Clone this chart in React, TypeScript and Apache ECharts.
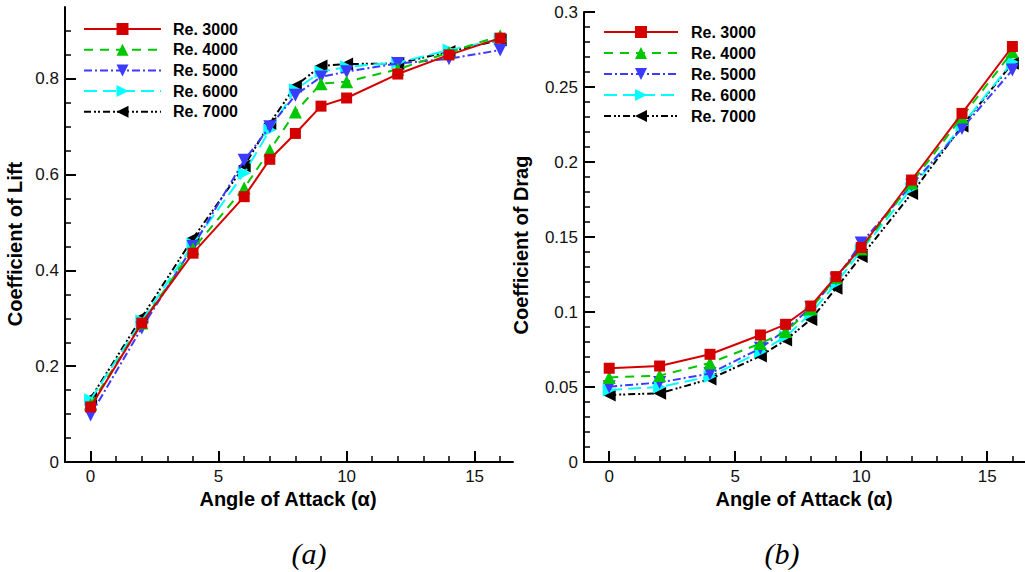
import React, { useEffect, useRef } from "react";
import * as echarts from "echarts";

// ---- Data ----
const angles = [0, 2, 4, 6, 7, 8, 9, 10, 12, 14, 16];
const seriesNames = ["Re. 3000", "Re. 4000", "Re. 5000", "Re. 6000", "Re. 7000"];

const liftRe3000 = [0.115, 0.29, 0.436, 0.554, 0.632, 0.686, 0.743, 0.76, 0.81, 0.85, 0.885];
const liftRe4000 = [0.12, 0.29, 0.445, 0.572, 0.651, 0.731, 0.79, 0.794, 0.82, 0.855, 0.89];
const liftRe5000 = [0.098, 0.28, 0.45, 0.63, 0.7, 0.766, 0.804, 0.815, 0.832, 0.842, 0.86];
const liftRe6000 = [0.13, 0.295, 0.455, 0.603, 0.693, 0.777, 0.815, 0.825, 0.834, 0.86, 0.883];
const liftRe7000 = [0.133, 0.302, 0.467, 0.618, 0.707, 0.785, 0.827, 0.831, 0.832, 0.857, 0.881];

const dragRe3000 = [0.0625, 0.064, 0.0718, 0.0847, 0.0918, 0.104, 0.1236, 0.143, 0.188, 0.2324, 0.277];
const dragRe4000 = [0.0564, 0.0576, 0.066, 0.079, 0.087, 0.102, 0.123, 0.142, 0.186, 0.23, 0.2735];
const dragRe5000 = [0.0502, 0.053, 0.059, 0.0758, 0.088, 0.103, 0.122, 0.146, 0.1847, 0.2224, 0.2613];
const dragRe6000 = [0.048, 0.05, 0.057, 0.0735, 0.0836, 0.099, 0.119, 0.141, 0.1824, 0.2245, 0.2667];
const dragRe7000 = [0.0447, 0.0458, 0.0553, 0.0707, 0.0813, 0.095, 0.1158, 0.137, 0.179, 0.224, 0.2658];

const liftSeries = [liftRe3000, liftRe4000, liftRe5000, liftRe6000, liftRe7000];
const dragSeries = [dragRe3000, dragRe4000, dragRe5000, dragRe6000, dragRe7000];

const xMajorTicks = [0, 5, 10, 15];
const liftMajorTicks = [0, 0.2, 0.4, 0.6, 0.8];
const dragMajorTicks = [0, 0.05, 0.1, 0.15, 0.2, 0.25, 0.3];

// ---- Styles ----
const FONT = "'Liberation Sans', Arial, sans-serif";
const styles = [
  { color: "#d40000", dash: "solid" as any, symbol: "rect", rotate: 0, size: 11 },
  { color: "#00c800", dash: [9, 7], symbol: "triangle", rotate: 0, size: 13 },
  { color: "#3b3bff", dash: [8, 3, 2, 3], symbol: "triangle", rotate: 180, size: 13 },
  { color: "#00ffff", dash: [13, 6], symbol: "triangle", rotate: -90, size: 13 },
  { color: "#000000", dash: [7, 3, 2, 2, 2, 3], symbol: "triangle", rotate: 90, size: 13 },
];

const xMinorTicks: number[] = [];
for (let i = 1; i <= 16; i++) if (!xMajorTicks.includes(i)) xMinorTicks.push(i);
const liftMinorTicks: number[] = [];
for (let i = 1; i <= 18; i++) if (i % 4 !== 0) liftMinorTicks.push(i / 20);
const dragMinorTicks: number[] = [];
for (let i = 1; i <= 29; i++) if (i % 5 !== 0) dragMinorTicks.push(i / 100);

function majorX(gridIndex: number) {
  return {
    type: "value",
    gridIndex,
    min: -1,
    max: 16.5,
    position: "bottom",
    axisLine: { show: true, onZero: false, lineStyle: { color: "#000", width: 2 } },
    axisTick: { show: true, inside: true, length: 11, customValues: xMajorTicks, lineStyle: { color: "#000", width: 2 } },
    axisLabel: { show: true, customValues: xMajorTicks, margin: 6, fontSize: 17, color: "#111", fontFamily: FONT },
    splitLine: { show: false },
  };
}
function minorX(gridIndex: number) {
  return {
    type: "value",
    gridIndex,
    min: -1,
    max: 16.5,
    position: "bottom",
    axisLine: { show: false, onZero: false },
    axisTick: { show: true, inside: true, length: 6, customValues: xMinorTicks, lineStyle: { color: "#000", width: 1.5 } },
    axisLabel: { show: false, customValues: xMinorTicks },
    splitLine: { show: false },
  };
}
function majorY(gridIndex: number, max: number, ticks: number[]) {
  return {
    type: "value",
    gridIndex,
    min: 0,
    max,
    position: "left",
    axisLine: { show: true, onZero: false, lineStyle: { color: "#000", width: 2 } },
    axisTick: { show: true, inside: true, length: 11, customValues: ticks, lineStyle: { color: "#000", width: 2 } },
    axisLabel: { show: true, customValues: ticks, margin: 6, fontSize: 17, color: "#111", fontFamily: FONT },
    splitLine: { show: false },
  };
}
function minorY(gridIndex: number, max: number, ticks: number[]) {
  return {
    type: "value",
    gridIndex,
    min: 0,
    max,
    position: "left",
    axisLine: { show: false, onZero: false },
    axisTick: { show: true, inside: true, length: 6, customValues: ticks, lineStyle: { color: "#000", width: 1.5 } },
    axisLabel: { show: false, customValues: ticks },
    splitLine: { show: false },
  };
}

function buildSeries(values: number[][], xAxisIndex: number, yAxisIndex: number) {
  return values.map((vals, i) => ({
    type: "line",
    name: seriesNames[i],
    xAxisIndex,
    yAxisIndex,
    data: angles.map((a, j) => [a, vals[j]]),
    symbol: styles[i].symbol,
    symbolSize: styles[i].size,
    symbolRotate: styles[i].rotate,
    showAllSymbol: true,
    lineStyle: { color: styles[i].color, width: 2, type: styles[i].dash },
    itemStyle: { color: styles[i].color },
    emphasis: { disabled: true },
    z: 10 - i,
  }));
}

export default function App() {
  const ref = useRef<HTMLDivElement>(null);
  useEffect(() => {
    if (!ref.current) return;
    const chart = echarts.init(ref.current, undefined, { renderer: "svg" });
    const legendText = { fontSize: 16, fontWeight: "bold", color: "#000", fontFamily: FONT };
    const titleFont = `bold 20px ${FONT}`;
    const capFont = `italic 30px 'Liberation Serif', 'Times New Roman', serif`;
    chart.setOption({
      animation: false,
      backgroundColor: "#fff",
      grid: [
        { left: 65, top: 7, width: 448, height: 455 },
        { left: 584, top: 12, width: 441, height: 450 },
      ],
      xAxis: [majorX(0), minorX(0), majorX(1), minorX(1)],
      yAxis: [
        majorY(0, 0.95, liftMajorTicks),
        minorY(0, 0.95, liftMinorTicks),
        majorY(1, 0.3, dragMajorTicks),
        minorY(1, 0.3, dragMinorTicks),
      ],
      legend: [
        {
          orient: "vertical",
          left: 83,
          top: 21,
          padding: 0,
          itemGap: 4.7,
          itemWidth: 77,
          itemHeight: 15,
          selectedMode: false,
          data: seriesNames,
          textStyle: { ...legendText, padding: [0, 0, 0, 7] },
        },
        {
          orient: "vertical",
          left: 603,
          top: 24,
          padding: 0,
          itemGap: 5,
          itemWidth: 74,
          itemHeight: 15,
          selectedMode: false,
          data: seriesNames,
          textStyle: { ...legendText, padding: [0, 0, 0, 8] },
        },
      ],
      graphic: [
        {
          type: "text", x: 288, y: 499,
          style: { text: "Angle of Attack (α)", align: "center", verticalAlign: "middle", font: titleFont, fill: "#000" },
        },
        {
          type: "text", x: 804, y: 499,
          style: { text: "Angle of Attack (α)", align: "center", verticalAlign: "middle", font: titleFont, fill: "#000" },
        },
        {
          type: "text", x: 15, y: 244, rotation: Math.PI / 2,
          style: { text: "Coefficient of Lift", align: "center", verticalAlign: "middle", font: titleFont, fill: "#000" },
        },
        {
          type: "text", x: 521, y: 245, rotation: Math.PI / 2,
          style: { text: "Coefficient of Drag", align: "center", verticalAlign: "middle", font: titleFont, fill: "#000" },
        },
        {
          type: "text", x: 309, y: 553,
          style: { text: "(a)", align: "center", verticalAlign: "middle", font: capFont, fill: "#000" },
        },
        {
          type: "text", x: 782, y: 553,
          style: { text: "(b)", align: "center", verticalAlign: "middle", font: capFont, fill: "#000" },
        },
      ],
      series: [...buildSeries(liftSeries, 0, 0), ...buildSeries(dragSeries, 2, 2)],
    });
    return () => chart.dispose();
  }, []);
  return (
    <div
      ref={ref}
      style={{ position: "fixed", left: 0, top: 0, width: 1025, height: 572 }}
    />
  );
}
